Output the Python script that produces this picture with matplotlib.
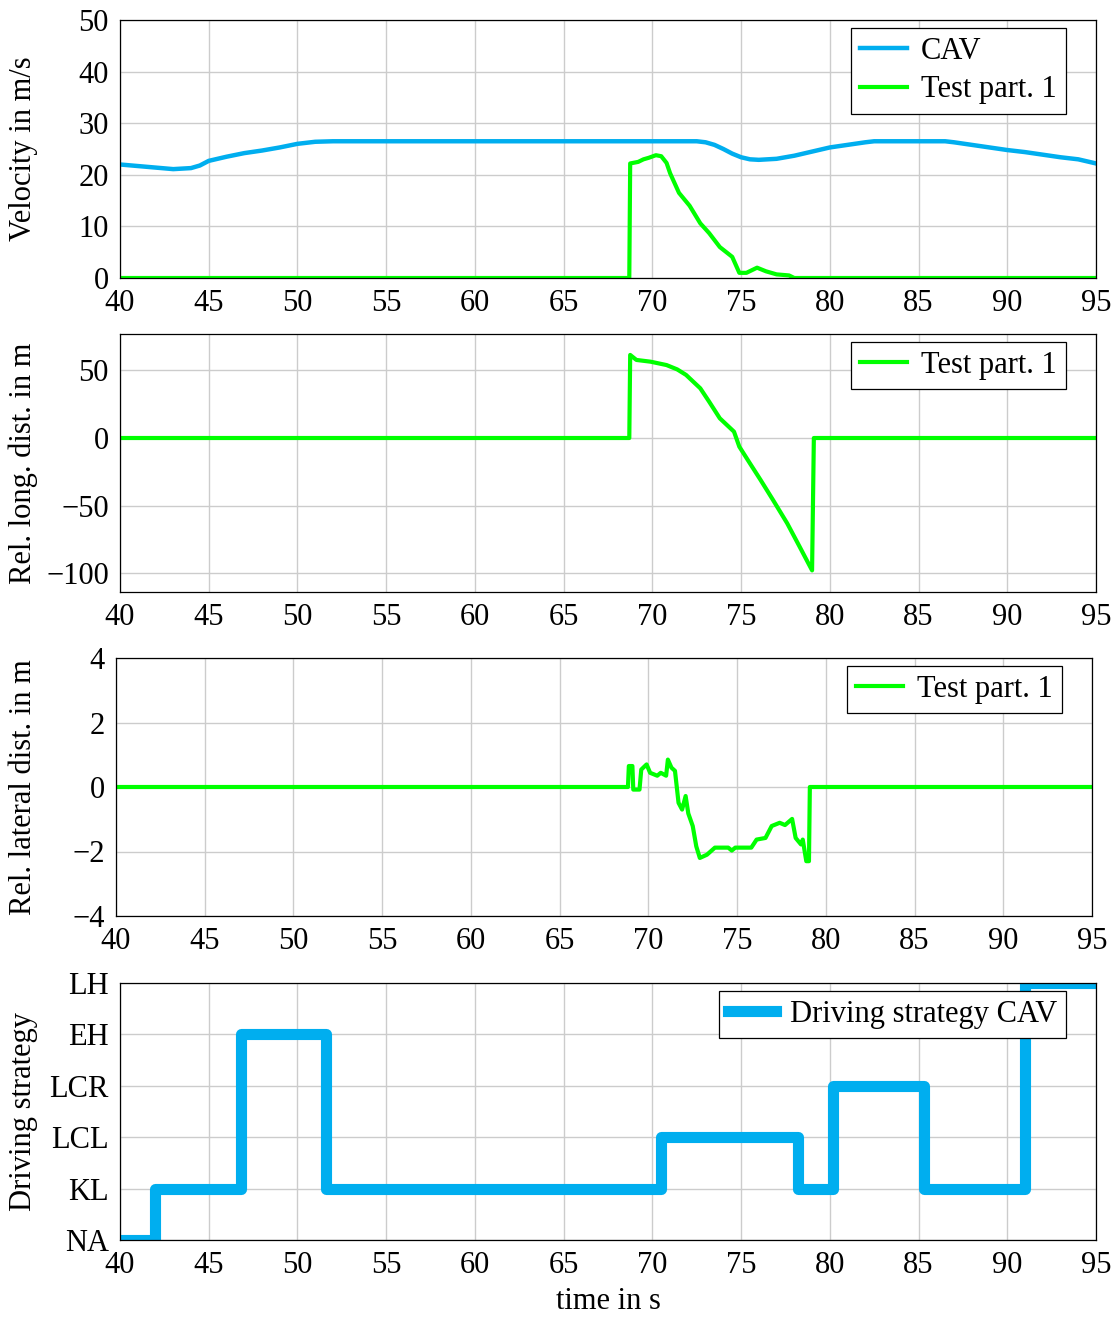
import numpy as np
import matplotlib
matplotlib.use("Agg")
import matplotlib.pyplot as plt

plt.rcParams['font.family'] = ['Liberation Serif', 'DejaVu Serif']
plt.rcParams['font.size'] = 22
plt.rcParams['axes.unicode_minus'] = True

# ---- data ----
# CAV velocity (m/s)
cav_t = [40, 41, 42, 43, 44, 44.5, 45, 46, 47, 48, 49, 50, 51, 52, 72.5, 73, 73.5, 74, 74.5,
         75, 75.5, 76, 77, 78, 79, 80, 81, 82, 82.5, 86.5, 87, 88, 89, 90, 91, 92, 93, 94, 95]
cav_v = [22.0, 21.7, 21.4, 21.1, 21.3, 21.8, 22.7, 23.5, 24.2, 24.7, 25.3, 26.0, 26.4, 26.5, 26.5,
         26.3, 25.8, 25.0, 24.1, 23.4, 23.0, 22.9, 23.1, 23.7, 24.5, 25.3, 25.8, 26.3, 26.5, 26.5,
         26.3, 25.8, 25.3, 24.8, 24.4, 23.9, 23.4, 23.0, 22.2]

# test participant 1 velocity (m/s)
vel_t = [40, 68.7, 68.75, 69.2, 69.5, 69.8, 70.2, 70.5, 70.8, 71.0, 71.5, 72.1, 72.7, 73.2,
         73.8, 74.5, 74.9, 75.3, 75.9, 76.4, 77.0, 77.7, 78.0, 95]
vel_v = [0, 0, 22.2, 22.5, 23.0, 23.3, 23.8, 23.6, 22.3, 20.3, 16.5, 14.0, 10.6, 8.7,
         6.0, 4.1, 1.0, 1.0, 2.0, 1.3, 0.7, 0.5, 0, 0]

# relative longitudinal distance (m)
long_t = [40, 68.7, 68.75, 69.1, 69.9, 70.8, 71.4, 71.9, 72.7, 73.2, 73.8, 74.6, 74.9, 75.5,
          76.1, 76.8, 77.6, 78.3, 79.0, 79.1, 95]
long_d = [0, 0, 61.5, 57.8, 56.5, 54.0, 50.8, 46.7, 36.8, 26.9, 14.6, 4.7, -6.4, -18.8,
          -31.1, -45.9, -63.2, -80.5, -98.0, 0, 0]

# relative lateral distance (m)
lat_t = [40, 68.85, 68.9, 69.1, 69.15, 69.5, 69.6, 69.9, 70.1, 70.5, 70.7, 71.0, 71.1, 71.3,
         71.5, 71.7, 71.9, 72.1, 72.25, 72.5, 72.7, 72.9, 73.3, 73.75, 74.5, 74.7, 74.9, 75.8,
         76.1, 76.6, 76.95, 77.4, 77.7, 78.1, 78.3, 78.6, 78.7, 78.9, 79.05, 79.1, 95]
lat_d = [0, 0, 0.65, 0.65, -0.08, -0.08, 0.54, 0.7, 0.44, 0.35, 0.44, 0.35, 0.85, 0.6,
         0.5, -0.49, -0.7, -0.28, -0.82, -1.21, -1.84, -2.2, -2.1, -1.88, -1.88, -1.97, -1.88, -1.88,
         -1.63, -1.58, -1.21, -1.11, -1.18, -0.99, -1.58, -1.78, -1.63, -2.3, -2.3, 0, 0]

# driving strategy of the CAV
strat_labels = ['NA', 'KL', 'LCL', 'LCR', 'EH', 'LH']
strat_t = [40, 42.0, 46.8, 51.6, 70.5, 78.2, 80.2, 85.3, 91.0, 95]
strat_v = ['NA', 'KL', 'EH', 'KL', 'LCL', 'KL', 'LCR', 'KL', 'LH', 'LH']

xticks = list(range(40, 96, 5))

BLUE = '#00AEEF'
GREEN = '#00FF00'

fig = plt.figure(figsize=(11.18, 13.22), dpi=100)
W, H = 1118, 1322


def make_ax(left, top, right, bottom):
    return fig.add_axes([left / W, 1 - bottom / H, (right - left) / W, (bottom - top) / H])


def style(ax, ylabel, lx):
    ax.set_xlim(40, 95)
    ax.set_xticks(xticks)
    ax.grid(True, color='#cccccc', linewidth=1)
    ax.set_axisbelow(True)
    ax.tick_params(direction='in', length=0, pad=8)
    for s in ax.spines.values():
        s.set_linewidth(0.9)
    ax.set_ylabel(ylabel)
    ax.yaxis.set_label_coords(lx, 0.5)


def legend(ax, right_px, top_px, ax_w=976, ax_h=258, **kw):
    leg = ax.legend(loc='upper right', bbox_to_anchor=(1 - right_px / ax_w, 1 - top_px / ax_h),
                    borderaxespad=0, fancybox=False, edgecolor='black', framealpha=1,
                    handlelength=1.55, handletextpad=0.45, borderpad=0.3, labelspacing=0.3, **kw)
    leg.get_frame().set_linewidth(0.9)
    return leg


# panel 1: velocity
ax1 = make_ax(120, 20, 1096, 278)
ax1.plot(cav_t, cav_v, color=BLUE, lw=3.2, label='CAV')
ax1.plot(vel_t, vel_v, color=GREEN, lw=3, label='Test part. 1')
ax1.set_ylim(0, 50)
ax1.set_yticks(range(0, 51, 10))
style(ax1, 'Velocity in m/s', -0.084)
legend(ax1, 30, 8)

# panel 2: longitudinal distance
ax2 = make_ax(120, 334, 1096, 592)
ax2.plot(long_t, long_d, color=GREEN, lw=3, label='Test part. 1')
ax2.set_ylim(-114, 77)
ax2.set_yticks([-100, -50, 0, 50])
style(ax2, 'Rel. long. dist. in m', -0.084)
legend(ax2, 30, 8)

# panel 3: lateral distance
ax3 = make_ax(116, 658, 1092, 916)
ax3.plot(lat_t, lat_d, color=GREEN, lw=3, label='Test part. 1')
ax3.set_ylim(-4, 4)
ax3.set_yticks(range(-4, 5, 2))
style(ax3, 'Rel. lateral dist. in m', -0.080)
legend(ax3, 30, 8)

# panel 4: driving strategy
ax4 = make_ax(120, 983, 1096, 1240)
lvl = [strat_labels.index(s) for s in strat_v]
ax4.plot(strat_t, lvl, color=BLUE, lw=8, drawstyle='steps-post', label='Driving strategy CAV')
ax4.set_ylim(0, 5)
ax4.set_yticks(range(len(strat_labels)))
ax4.set_yticklabels(strat_labels)
style(ax4, 'Driving strategy', -0.084)
ax4.set_xlabel('time in s', labelpad=5)
legend(ax4, 30, 8, ax_h=257)

fig.savefig('out.png', dpi=100)
